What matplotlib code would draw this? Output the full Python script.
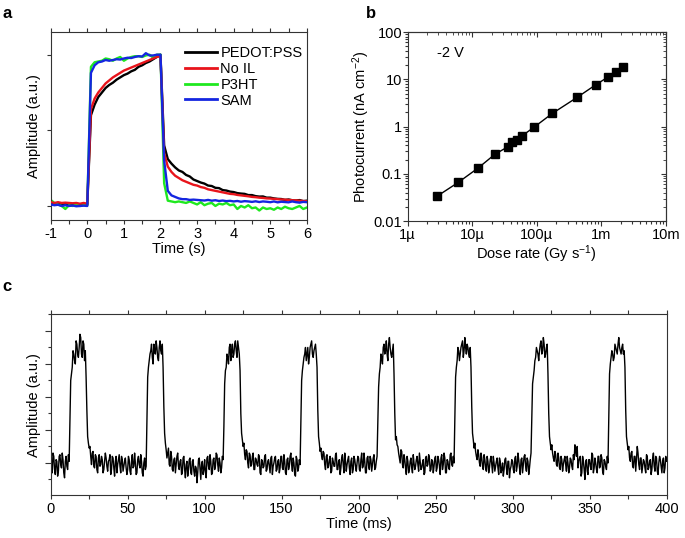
import numpy as np
import matplotlib
matplotlib.use("Agg")
import matplotlib.pyplot as plt
from matplotlib.ticker import FixedLocator, FixedFormatter, MultipleLocator, LogLocator, NullFormatter

plt.rcParams['font.family'] = ['Liberation Sans', 'DejaVu Sans']
plt.rcParams['mathtext.default'] = 'regular'
plt.rcParams['axes.unicode_minus'] = False
plt.rcParams['font.size'] = 10.5

# ---------------- Panel a data ----------------
time_a = np.round(np.arange(-1.0, 6.0001, 0.1), 1)
pedot = [0.02, 0.015, 0.02, 0.01, 0.015, 0.01, 0.012, 0.008, 0.01, 0.012,
         0.01, 0.60, 0.67, 0.72, 0.75, 0.78, 0.80, 0.815, 0.835, 0.85,
         0.865, 0.875, 0.89, 0.90, 0.92, 0.93, 0.945, 0.955, 0.97, 0.985,
         1.0, 0.40, 0.31, 0.28, 0.255, 0.235, 0.225, 0.205, 0.195, 0.175,
         0.165, 0.155, 0.148, 0.135, 0.132, 0.12, 0.118, 0.105, 0.102, 0.095,
         0.092, 0.085, 0.082, 0.08, 0.072, 0.072, 0.065, 0.062, 0.063, 0.055,
         0.055, 0.05, 0.047, 0.046, 0.04, 0.043, 0.038, 0.036, 0.039, 0.032,
         0.035]
no_il = [0.025, 0.02, 0.025, 0.02, 0.022, 0.02, 0.018, 0.02, 0.015, 0.02,
         0.015, 0.64, 0.71, 0.75, 0.78, 0.81, 0.83, 0.85, 0.865, 0.88,
         0.895, 0.905, 0.915, 0.925, 0.935, 0.945, 0.955, 0.965, 0.975, 0.985,
         0.99, 0.35, 0.26, 0.225, 0.20, 0.185, 0.17, 0.16, 0.15, 0.14,
         0.135, 0.125, 0.12, 0.11, 0.105, 0.10, 0.095, 0.09, 0.085, 0.08,
         0.078, 0.073, 0.07, 0.067, 0.064, 0.06, 0.058, 0.055, 0.053, 0.05,
         0.049, 0.047, 0.045, 0.043, 0.042, 0.04, 0.038, 0.037, 0.035, 0.033,
         0.031]
p3ht = [0.04, 0.02, 0.01, 0.0, -0.02, 0.005, 0.0, 0.01, 0.0, 0.005,
        0.005, 0.92, 0.95, 0.955, 0.96, 0.975, 0.97, 0.96, 0.975, 0.985,
        0.96, 0.975, 0.985, 0.99, 0.99, 0.985, 0.995, 1.0, 0.98, 1.0,
        1.0, 0.15, 0.035, 0.03, 0.025, 0.03, 0.025, 0.02, 0.03, 0.02,
        0.01, 0.025, 0.005, 0.015, 0.02, 0.0, 0.015, 0.01, 0.02, 0.005,
        0.01, -0.02, 0.0, -0.01, 0.005, -0.015, -0.01, -0.03, -0.01, -0.02,
        -0.015, -0.025, -0.01, -0.02, -0.005, -0.015, -0.02, -0.01, 0.0, -0.02,
        -0.01]
sam = [0.01, 0.005, 0.008, 0.0, 0.005, 0.0, 0.003, -0.002, 0.0, 0.002,
       0.0, 0.88, 0.93, 0.95, 0.955, 0.965, 0.96, 0.965, 0.97, 0.968,
       0.975, 0.98, 0.978, 0.985, 0.99, 0.988, 1.01, 0.995, 0.995, 1.0,
       1.0, 0.30, 0.10, 0.07, 0.06, 0.05, 0.045, 0.045, 0.04, 0.042,
       0.04, 0.038, 0.036, 0.04, 0.035, 0.038, 0.033, 0.036, 0.032, 0.034,
       0.03, 0.033, 0.028, 0.032, 0.03, 0.027, 0.031, 0.026, 0.03, 0.028,
       0.025, 0.03, 0.024, 0.028, 0.026, 0.024, 0.03, 0.025, 0.022, 0.027,
       0.025]
series_a_labels = ['PEDOT:PSS', 'No IL', 'P3HT', 'SAM']
series_a_colors = ['#000000', '#e8141b', '#1fe81f', '#1426e0']

# ---------------- Panel b data ----------------
dose_rate = [2.9e-6, 6.1e-6, 1.24e-5, 2.25e-5, 3.53e-5, 4.2e-5, 4.87e-5, 6.0e-5,
             9.1e-5, 1.74e-4, 4.28e-4, 8.2e-4, 1.29e-3, 1.72e-3, 2.16e-3]
photocurrent = [0.034, 0.066, 0.133, 0.259, 0.37, 0.473, 0.52, 0.644,
                0.97, 1.89, 4.19, 7.64, 11.3, 14.4, 17.8]
b_xticks = [1e-6, 1e-5, 1e-4, 1e-3, 1e-2]
b_xlabels = ['1\u00b5', '10\u00b5', '100\u00b5', '1m', '10m']
b_yticks = [0.01, 0.1, 1, 10, 100]
b_ylabels = ['0.01', '0.1', '1', '10', '100']

# ---------------- Panel c data ----------------
# samples at whole milliseconds (0 ... 400 ms)
trace_c = [
    # 0-49 ms
    0.15, -0.3, 0.2, -0.35, 0.05, -0.25, 0.25, -0.15, 0.1, -0.45, 0.2, -0.2,
    0.05,
    2.5, 2.9, 3.3, 3.0, 3.6, 3.2, 3.9, 3.3, 3.7, 3.1, 2.6,
    0.8, 0.45,
    0.2, 0.3, -0.1, 0.25, -0.2, 0.15, -0.1, 0.2, -0.3, 0.05, 0.15, -0.25,
    0.1, -0.35, 0.2, -0.15, 0.05, -0.3, 0.1, -0.1, 0.2, -0.25, 0.05, -0.15,
    # 50-99 ms
    -0.2, 0.1, -0.35, 0.25, -0.1, 0.0, -0.3, 0.2, -0.15, 0.05, -0.4, 0.15,
    -0.1,
    2.6, 3.1, 3.4, 3.2, 3.6, 3.3, 3.5, 3.1, 3.7, 3.3, 2.9,
    0.9, 0.4,
    0.3, -0.05, 0.35, -0.2, 0.1, -0.3, 0.2, -0.1, 0.05, -0.35, 0.15, -0.2,
    -0.05, -0.4, 0.1, -0.3, 0.05, -0.25, -0.1, -0.6, 0.1, -0.2, -0.05, -0.35,
    # 100-149 ms
    0.1, -0.45, 0.2, -0.2, 0.05, -0.3, 0.15, -0.1, 0.25, -0.25, 0.0, -0.15,
    0.1,
    2.4, 2.9, 3.2, 3.5, 3.1, 3.6, 3.3, 3.7, 3.2, 3.5, 2.8,
    0.9, 0.5,
    0.25, 0.4, 0.0, 0.3, -0.1, 0.2, -0.2, 0.15, -0.05, 0.25, -0.3, 0.1,
    -0.15, 0.2, -0.25, 0.05, -0.1, 0.15, -0.35, 0.0, 0.2, -0.2, 0.1, -0.15,
    # 150-199 ms
    0.2, -0.2, 0.05, -0.35, 0.15, -0.1, 0.3, -0.25, 0.0, -0.4, 0.1, -0.15,
    -0.05,
    2.5, 3.0, 3.3, 3.1, 3.5, 3.2, 3.6, 3.3, 3.4, 3.6, 2.9,
    0.8, 0.35,
    0.2, 0.35, -0.05, 0.2, -0.15, 0.1, -0.3, 0.15, -0.1, 0.25, -0.2, 0.05,
    -0.35, 0.15, -0.05, 0.3, -0.25, 0.1, -0.15, 0.05, -0.3, 0.2, -0.1, 0.0,
    # 200-249 ms
    0.15, -0.25, 0.3, -0.1, 0.05, -0.3, 0.2, -0.2, 0.1, -0.05, 0.25, -0.15,
    0.2,
    2.3, 2.9, 3.2, 3.5, 3.3, 3.7, 3.1, 3.8, 3.3, 3.4, 2.7,
    0.7, 0.55,
    0.3, 0.0, 0.35, -0.15, 0.1, -0.35, 0.05, -0.2, 0.15, -0.3, 0.0, -0.1,
    0.2, -0.25, 0.05, -0.15, 0.1, -0.3, 0.2, -0.05, 0.15, -0.2, 0.05, -0.1,
    # 250-299 ms
    0.2, -0.15, 0.1, -0.35, 0.25, -0.05, 0.15, -0.3, 0.05, -0.2, 0.3, -0.1,
    0.0,
    2.6, 3.1, 3.4, 3.3, 3.6, 3.2, 3.8, 3.3, 3.5, 3.2, 2.9,
    0.9, 0.45,
    0.35, 0.1, 0.25, -0.1, 0.15, -0.2, 0.1, -0.25, 0.05, -0.15, 0.2, -0.3,
    0.0, -0.1, 0.15, -0.35, 0.05, -0.2, -0.4, 0.1, -0.15, 0.05, -0.45, -0.1,
    # 300-349 ms
    0.05, -0.3, 0.2, -0.1, 0.1, -0.35, 0.15, -0.05, 0.25, -0.25, 0.05, -0.15,
    0.3,
    2.4, 2.8, 3.2, 3.4, 3.1, 3.6, 3.3, 3.8, 3.2, 3.5, 2.7,
    0.8, 0.4,
    0.3, 0.05, 0.25, -0.1, 0.15, -0.2, 0.1, -0.05, 0.2, -0.25, 0.0, -0.15,
    0.1, -0.2, 0.1, 0.35, 0.5, 0.05, 0.2, -0.3, 0.05, -0.5, 0.1, -0.35,
    # 350-399 ms
    0.1, -0.2, 0.25, -0.15, 0.0, -0.3, 0.2, -0.1, 0.15, -0.35, 0.05, -0.2,
    0.0,
    2.7, 3.2, 3.3, 3.2, 3.5, 3.3, 3.8, 3.4, 3.5, 3.3, 2.9,
    0.8, 0.4,
    0.15, 0.3, -0.1, 0.2, -0.25, 0.5, -0.05, 0.15, -0.3, 0.1, -0.15, 0.25,
    -0.2, 0.05, -0.35, 0.15, -0.1, 0.2, -0.25, 0.0, 0.1, -0.3, 0.15, -0.15,
    # 400 ms
    0.05,
]
# samples at half milliseconds (0.5 ... 399.5 ms)
trace_c_half = [
    # 0.5-49.5 ms
    -0.1, 0.3, -0.2, 0.1, -0.4, 0.2, -0.05, 0.3, -0.3, 0.05, -0.1, 0.25,
    1.3,
    2.7, 3.4, 3.1, 3.7, 3.3, 3.5, 3.8, 3.2, 3.6, 3.4,
    1.6, 0.6,
    0.5, -0.05, 0.35, -0.15, 0.2, -0.3, 0.25, -0.05, 0.1, -0.2, 0.3, -0.1,
    0.05, 0.25, -0.2, 0.15, -0.4, 0.2, -0.05, 0.25, -0.3, 0.1, -0.1, 0.15, -0.35,
    # 50.5-99.5 ms
    0.2, -0.25, 0.05, -0.15, 0.3, -0.35, 0.1, -0.05, 0.25, -0.3, 0.0, -0.2,
    1.2,
    2.9, 3.3, 3.6, 3.0, 3.4, 3.7, 3.2, 3.5, 3.4, 3.6,
    1.7, 0.6,
    0.15, 0.45, -0.1, 0.2, -0.25, 0.15, -0.05, 0.3, -0.2, 0.1, -0.3, 0.2,
    -0.45, 0.05, -0.2, 0.15, -0.35, 0.1, -0.4, -0.15, -0.3, 0.15, -0.5, 0.05, -0.2,
    # 100.5-149.5 ms
    -0.3, 0.15, -0.1, 0.25, -0.35, 0.1, -0.2, 0.3, -0.05, 0.15, -0.3, 0.2,
    1.1,
    2.8, 3.3, 3.0, 3.6, 3.4, 3.2, 3.6, 3.4, 3.7, 3.3,
    1.5, 0.7,
    0.6, 0.1, 0.35, -0.15, 0.25, -0.05, 0.3, -0.2, 0.1, -0.1, 0.2, -0.35,
    0.05, -0.1, 0.25, -0.2, 0.1, -0.3, 0.2, -0.1, 0.15, -0.25, 0.05, -0.3, 0.2,
    # 150.5-199.5 ms
    -0.15, 0.25, -0.3, 0.1, -0.2, 0.2, -0.05, 0.15, -0.35, 0.2, -0.25, 0.1,
    1.2,
    2.8, 3.2, 3.5, 3.3, 3.0, 3.5, 3.7, 3.2, 3.5, 3.3,
    1.6, 0.6,
    0.45, 0.1, 0.3, -0.2, 0.25, -0.1, 0.2, -0.25, 0.05, -0.1, 0.3, -0.2,
    0.1, -0.15, 0.25, -0.3, 0.05, -0.05, 0.2, -0.35, 0.15, -0.2, 0.1, -0.25, 0.2,
    # 200.5-249.5 ms
    -0.2, 0.1, -0.15, 0.3, -0.3, 0.15, -0.1, 0.2, -0.25, 0.15, -0.2, 0.05,
    1.3,
    2.7, 3.3, 3.0, 3.6, 3.4, 3.3, 3.6, 3.5, 3.2, 3.6,
    1.5, 0.8,
    0.5, 0.15, 0.4, -0.05, 0.25, -0.15, 0.2, -0.3, 0.05, -0.15, 0.25, -0.2,
    0.1, -0.05, 0.3, -0.2, 0.0, -0.35, 0.15, -0.1, 0.25, -0.25, 0.1, -0.3, 0.15,
    # 250.5-299.5 ms
    -0.25, 0.2, -0.1, 0.15, -0.2, 0.3, -0.3, 0.1, -0.15, 0.25, -0.05, 0.2,
    1.3,
    2.9, 3.5, 3.1, 3.5, 3.7, 3.4, 3.5, 3.6, 3.3, 3.5,
    1.7, 0.7,
    0.6, 0.2, 0.4, 0.0, 0.3, -0.1, 0.25, -0.15, 0.2, -0.3, 0.1, -0.05,
    0.2, -0.25, 0.05, -0.15, 0.15, -0.3, 0.0, -0.2, 0.15, -0.35, 0.05, -0.2, 0.1,
    # 300.5-349.5 ms
    -0.2, 0.15, -0.25, 0.3, -0.15, 0.1, -0.3, 0.2, -0.1, 0.15, -0.35, 0.1,
    1.4,
    2.6, 3.1, 3.5, 3.3, 3.4, 3.7, 3.4, 3.6, 3.3, 3.6,
    1.5, 0.6,
    0.55, 0.15, 0.35, -0.05, 0.3, -0.15, 0.2, -0.25, 0.1, -0.05, 0.2, -0.3,
    0.15, -0.1, 0.25, 0.55, 0.2, -0.15, 0.15, -0.4, 0.2, -0.2, 0.05, -0.25, 0.1,
    # 350.5-399.5 ms
    -0.1, 0.3, -0.3, 0.15, -0.2, 0.2, -0.15, 0.25, -0.25, 0.1, -0.1, 0.2,
    1.3,
    3.0, 3.4, 3.1, 3.6, 3.4, 3.6, 3.5, 3.3, 3.6, 3.4,
    1.6, 0.6,
    0.5, 0.05, 0.35, -0.15, 0.2, 0.1, 0.3, -0.2, 0.15, -0.1, 0.05, -0.3,
    0.2, -0.15, 0.1, -0.2, 0.3, -0.25, 0.15, -0.35, 0.2, -0.1, 0.05, -0.3, 0.2,
]
n_half = min(len(trace_c) - 1, len(trace_c_half))
amp_c = np.empty(2 * n_half + 1)
amp_c[0::2] = trace_c[:n_half + 1]
amp_c[1::2] = trace_c_half[:n_half]
time_c = np.arange(len(amp_c)) * 0.5

# ---------------- Figure ----------------
fig = plt.figure(figsize=(6.85, 5.38), dpi=100)
spine_col = '#333333'

def style_axes(ax):
    for s in ax.spines.values():
        s.set_color(spine_col)
        s.set_linewidth(0.8)
    ax.tick_params(which='both', color=spine_col, width=0.8, labelsize=10.5, pad=2)

# Panel a
ax_a = fig.add_axes([0.074, 0.591, 0.374, 0.3495])
ax_a.plot(time_a, pedot, color=series_a_colors[0], lw=1.7, label=series_a_labels[0], zorder=2)
ax_a.plot(time_a, no_il, color=series_a_colors[1], lw=1.7, label=series_a_labels[1], zorder=3)
ax_a.plot(time_a, p3ht, color=series_a_colors[2], lw=1.7, label=series_a_labels[2], zorder=2)
ax_a.plot(time_a, sam, color=series_a_colors[3], lw=1.7, label=series_a_labels[3], zorder=4)
ax_a.set_xlim(-1, 6)
ax_a.set_ylim(-0.093, 1.15)
ax_a.xaxis.set_major_locator(MultipleLocator(1))
ax_a.xaxis.set_minor_locator(MultipleLocator(0.5))
ax_a.set_yticks([0, 0.5, 1.0])
ax_a.set_yticklabels([])
style_axes(ax_a)
ax_a.tick_params(axis='x', which='both', direction='out', top=True, length=3)
ax_a.tick_params(axis='y', which='both', direction='out', right=False, length=3)
ax_a.set_xlabel('Time (s)', labelpad=1)
ax_a.set_ylabel('Amplitude (a.u.)', labelpad=2)
leg = ax_a.legend(loc='upper left', bbox_to_anchor=(0.50, 0.955), frameon=False,
                  handlelength=2.2, handletextpad=0.25, labelspacing=0.12,
                  borderaxespad=0, fontsize=10.5)
for line in leg.get_lines():
    line.set_linewidth(2.0)

# Panel b
ax_b = fig.add_axes([0.595, 0.589, 0.377, 0.3515])
ax_b.plot(dose_rate, photocurrent, color='black', lw=1.0, marker='s',
          markersize=6, markerfacecolor='black', markeredgecolor='black')
ax_b.set_xscale('log')
ax_b.set_yscale('log')
ax_b.set_xlim(1e-6, 1e-2)
ax_b.set_ylim(0.01, 100)
ax_b.xaxis.set_major_locator(FixedLocator(b_xticks))
ax_b.xaxis.set_major_formatter(FixedFormatter(b_xlabels))
ax_b.yaxis.set_major_locator(FixedLocator(b_yticks))
ax_b.yaxis.set_major_formatter(FixedFormatter(b_ylabels))
ax_b.xaxis.set_minor_locator(LogLocator(base=10, subs=np.arange(2, 10)))
ax_b.yaxis.set_minor_locator(LogLocator(base=10, subs=np.arange(2, 10)))
ax_b.xaxis.set_minor_formatter(NullFormatter())
ax_b.yaxis.set_minor_formatter(NullFormatter())
style_axes(ax_b)
ax_b.tick_params(which='major', direction='out', length=3.5)
ax_b.tick_params(which='minor', direction='out', length=2)
ax_b.tick_params(axis='x', which='major', pad=1.5)
ax_b.tick_params(axis='y', which='major', pad=0.5)
ax_b.set_xlabel('Dose rate (Gy s$^{-1}$)', labelpad=1)
ax_b.set_ylabel('Photocurrent (nA cm$^{-2}$)', labelpad=1)
ax_b.text(0.113, 0.889, '-2 V', transform=ax_b.transAxes, ha='left', va='center', fontsize=10.5)
# inward ticks on top and right
ax_b2 = ax_b.secondary_xaxis('top')
ax_b2.xaxis.set_major_locator(FixedLocator(b_xticks))
ax_b2.xaxis.set_minor_locator(LogLocator(base=10, subs=np.arange(2, 10)))
ax_b2.tick_params(which='major', direction='in', length=3.5, color=spine_col, labeltop=False)
ax_b2.tick_params(which='minor', direction='in', length=2, color=spine_col)
ax_b2.xaxis.set_major_formatter(NullFormatter())
ax_b2.xaxis.set_minor_formatter(NullFormatter())
ax_b3 = ax_b.secondary_yaxis('right')
ax_b3.yaxis.set_major_locator(FixedLocator(b_yticks))
ax_b3.yaxis.set_minor_locator(LogLocator(base=10, subs=np.arange(2, 10)))
ax_b3.tick_params(which='major', direction='in', length=3.5, color=spine_col)
ax_b3.tick_params(which='minor', direction='in', length=2, color=spine_col)
ax_b3.yaxis.set_major_formatter(NullFormatter())
ax_b3.yaxis.set_minor_formatter(NullFormatter())
for sec in (ax_b2, ax_b3):
    for s in sec.spines.values():
        s.set_color(spine_col)
        s.set_linewidth(0.8)

# Panel c
ax_c = fig.add_axes([0.074, 0.080, 0.899, 0.3355])
ax_c.plot(time_c, amp_c, color='black', lw=1.0)
ax_c.set_xlim(0, 400)
ax_c.set_ylim(-0.97, 4.5)
ax_c.xaxis.set_major_locator(MultipleLocator(50))
ax_c.xaxis.set_minor_locator(MultipleLocator(25))
ax_c.yaxis.set_major_locator(MultipleLocator(1))
ax_c.yaxis.set_minor_locator(MultipleLocator(0.5))
ax_c.set_yticklabels([])
style_axes(ax_c)
ax_c.tick_params(axis='x', which='both', direction='out', top=True, length=3)
ax_c.tick_params(axis='y', which='major', direction='out', length=4)
ax_c.tick_params(axis='y', which='minor', direction='out', length=2)
ax_c.set_xlabel('Time (ms)', labelpad=1)
ax_c.set_ylabel('Amplitude (a.u.)', labelpad=1)

# Panel letters
fig.text(0.004, 0.975, 'a', fontsize=12, fontweight='bold', va='center', ha='left')
fig.text(0.534, 0.975, 'b', fontsize=12, fontweight='bold', va='center', ha='left')
fig.text(0.004, 0.467, 'c', fontsize=12, fontweight='bold', va='center', ha='left')

fig.savefig('out.png', dpi=100)
